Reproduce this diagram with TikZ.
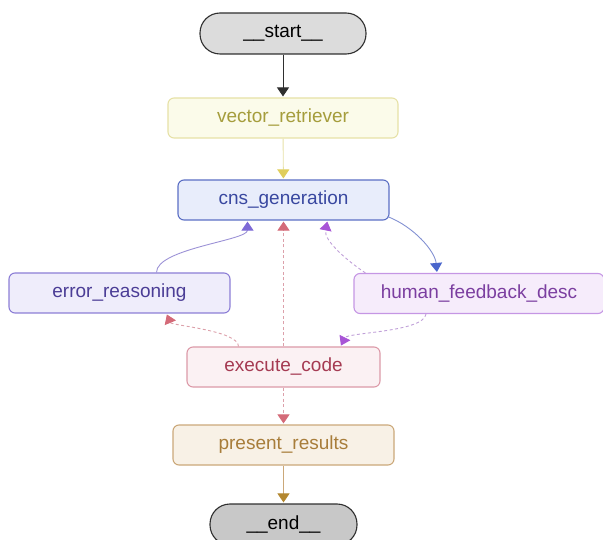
\documentclass[tikz,border=0pt]{standalone}
\usepackage{fontspec}
\setmainfont{Liberation Sans}
\usetikzlibrary{arrows.meta}

\definecolor{termfill}{HTML}{DCDCDC}
\definecolor{endfill}{HTML}{C8C8C8}
\definecolor{termdraw}{HTML}{2F2F2F}
\definecolor{vrfill}{HTML}{FBFBEA}
\definecolor{vrdraw}{HTML}{E6E1A6}
\definecolor{vrtext}{HTML}{A59D3C}
\definecolor{vrarrow}{HTML}{E0CE5C}
\definecolor{cnsfill}{HTML}{E8EDFB}
\definecolor{cnsdraw}{HTML}{5B6FC4}
\definecolor{cnstext}{HTML}{3948A0}
\definecolor{cnsarrow}{HTML}{4A66CC}
\definecolor{cnsline}{HTML}{8391D2}
\definecolor{erfill}{HTML}{EFEDFB}
\definecolor{erdraw}{HTML}{8C7ED6}
\definecolor{ertext}{HTML}{4B3D96}
\definecolor{erarrow}{HTML}{7E6AD6}
\definecolor{erline}{HTML}{9C92D6}
\definecolor{hffill}{HTML}{F6ECFB}
\definecolor{hfdraw}{HTML}{C596E4}
\definecolor{hftext}{HTML}{7B3EA0}
\definecolor{hfarrow}{HTML}{A855D6}
\definecolor{hfline}{HTML}{C0A0D8}
\definecolor{exfill}{HTML}{FBF1F3}
\definecolor{exdraw}{HTML}{DC9AA8}
\definecolor{extext}{HTML}{A53A52}
\definecolor{exarrow}{HTML}{D46A78}
\definecolor{exline}{HTML}{DCA0AA}
\definecolor{prfill}{HTML}{F8F1E6}
\definecolor{prdraw}{HTML}{CBA879}
\definecolor{prtext}{HTML}{A87D3A}
\definecolor{prarrow}{HTML}{B3872F}

\tikzset{
  box/.style={rectangle, rounded corners=6pt, line width=1.1pt, minimum height=40pt,
    inner sep=0pt, font=\fontsize{19}{21}\selectfont},
  term/.style={box, rounded corners=20pt, draw=termdraw, text=black, minimum height=41pt},
  link/.style={line width=0.9pt, -{Triangle[width=12pt,length=9pt]}, shorten >=1pt},
  dashlink/.style={link, dash pattern=on 3pt off 2.5pt},
}

\begin{document}
\begin{tikzpicture}[x=1pt,y=-1pt]
  \useasboundingbox (0,0) rectangle (603,540);

  % nodes
  \node[term, fill=termfill, minimum width=166pt] (start) at (283,33.5) {\_\_start\_\_};
  \node[box, fill=vrfill, draw=vrdraw, text=vrtext, minimum width=230pt] (vr) at (283,118) {vector\_retriever};
  \node[box, fill=cnsfill, draw=cnsdraw, text=cnstext, minimum width=211pt] (cns) at (283.5,200) {cns\_generation};
  \node[box, fill=erfill, draw=erdraw, text=ertext, minimum width=221pt] (er) at (119.5,293) {error\_reasoning};
  \node[box, fill=hffill, draw=hfdraw, text=hftext, minimum width=250pt] (hf) at (479,293.5) {human\_feedback\_desc};
  \node[box, fill=exfill, draw=exdraw, text=extext, minimum width=193pt] (ex) at (283.5,367) {execute\_code};
  \node[box, fill=prfill, draw=prdraw, text=prtext, minimum width=221pt] (pr) at (283.5,445) {present\_results};
  \node[term, fill=endfill, minimum width=147pt] (end) at (283.5,524.5) {\_\_end\_\_};

  % straight connectors
  \draw[link, draw=termdraw, fill=termdraw] (start) -- (vr);
  \draw[link, draw=vrdraw, -{Triangle[width=12pt,length=9pt,color=vrarrow]}] (vr) -- (cns);
  \draw[dashlink, draw=exline, -{Triangle[width=12pt,length=9pt,color=exarrow]}] (ex) -- (cns);
  \draw[dashlink, draw=exline, -{Triangle[width=12pt,length=9pt,color=exarrow]}] (ex) -- (pr);
  \draw[link, draw=prdraw, -{Triangle[width=12pt,length=9pt,color=prarrow]}] (pr) -- (end);

  % curved connectors (yshift is measured upwards)
  \draw[link, draw=erline, -{Triangle[width=12pt,length=9pt,color=erarrow]}]
    ([xshift=37pt]er.north) .. controls ([xshift=37pt,yshift=24pt]er.north) and ([xshift=-36pt,yshift=-20pt]cns.south) .. ([xshift=-36pt]cns.south);
  \draw[link, draw=cnsline, -{Triangle[width=12pt,length=9pt,color=cnsarrow]}]
    ([xshift=-2pt,yshift=4pt]cns.south east) .. controls ([xshift=24pt,yshift=-6pt]cns.south east) and ([xshift=-44pt,yshift=22pt]hf.north) .. ([xshift=-42pt]hf.north);
  \draw[dashlink, draw=hfline, -{Triangle[width=12pt,length=9pt,color=hfarrow]}]
    ([xshift=12pt]hf.north west) .. controls ([xshift=-6pt,yshift=12pt]hf.north west) and ([xshift=40pt,yshift=-20pt]cns.south) .. ([xshift=44pt]cns.south);
  \draw[dashlink, draw=hfline, -{Triangle[width=12pt,length=9pt,color=hfarrow]}]
    ([xshift=-53pt]hf.south) .. controls ([xshift=-55pt,yshift=-18pt]hf.south) and ([xshift=64pt,yshift=14pt]ex.north) .. ([xshift=57pt]ex.north);
  \draw[dashlink, draw=exline, -{Triangle[width=12pt,length=9pt,color=exarrow]}]
    ([xshift=-45pt]ex.north) .. controls ([xshift=-45pt,yshift=16pt]ex.north) and ([xshift=52pt,yshift=-12pt]er.south) .. ([xshift=47pt]er.south);
\end{tikzpicture}
\end{document}
